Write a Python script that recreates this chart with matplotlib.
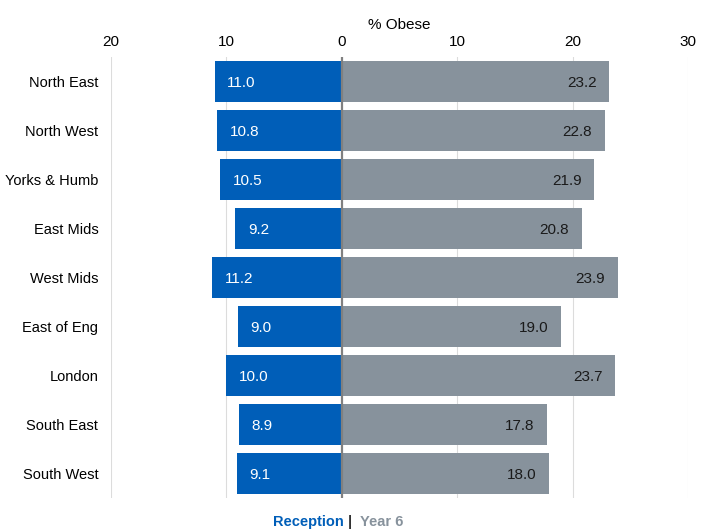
import matplotlib.pyplot as plt
import numpy as np

plt.rcParams['font.family'] = ['Liberation Sans', 'DejaVu Sans']

regions = ['North East', 'North West', 'Yorks & Humb', 'East Mids', 'West Mids',
           'East of Eng', 'London', 'South East', 'South West']
reception = [11.0, 10.8, 10.5, 9.2, 11.2, 9.0, 10.0, 8.9, 9.1]
year6 = [23.2, 22.8, 21.9, 20.8, 23.9, 19.0, 23.7, 17.8, 18.0]
tick_vals = [-20, -10, 0, 10, 20, 30]
tick_labels = ['20', '10', '0', '10', '20', '30']

blue = '#005EB8'
grey = '#87929C'

fig = plt.figure(figsize=(7.1, 5.32), dpi=100)
ax = fig.add_axes([0.156, 0.064, 0.813, 0.829])

y = np.arange(len(regions))
ax.barh(y, [-v for v in reception], height=0.82, color=blue, zorder=2)
ax.barh(y, year6, height=0.82, color=grey, zorder=2)

for i in range(len(regions)):
    ax.text(-reception[i] + 1.1, y[i] + 0.03, '%.1f' % reception[i], color='white',
            fontsize=11, va='center', ha='left', zorder=3)
    ax.text(year6[i] - 1.1, y[i] + 0.03, '%.1f' % year6[i], color='#1a1a1a',
            fontsize=11, va='center', ha='right', zorder=3)

ax.set_xlim(-20, 30)
ax.set_ylim(len(regions) - 0.5, -0.5)
ax.set_yticks(y)
ax.set_yticklabels(regions, fontsize=10.5)
ax.xaxis.tick_top()
ax.set_xticks(tick_vals)
ax.set_xticklabels(tick_labels, fontsize=11)
ax.tick_params(length=0, pad=6)
ax.tick_params(axis='y', pad=9)
ax.set_xlabel('% Obese', fontsize=11)
ax.xaxis.set_label_position('top')
ax.xaxis.labelpad = 4

for v in tick_vals:
    if v == 0:
        ax.axvline(0, color='#808080', lw=1.6, zorder=4)
    else:
        ax.axvline(v, color='#dcdcdc', lw=0.8, zorder=1)

for s in ax.spines.values():
    s.set_visible(False)

fig.text(0.484, 0.006, 'Reception', color=blue, fontsize=10.5, fontweight='bold', ha='right', va='bottom')
fig.text(0.4925, 0.006, '|', color='#333333', fontsize=10.5, fontweight='bold', ha='center', va='bottom')
fig.text(0.507, 0.006, 'Year 6', color=grey, fontsize=10.5, fontweight='bold', ha='left', va='bottom')

fig.savefig('out.png', dpi=100)
